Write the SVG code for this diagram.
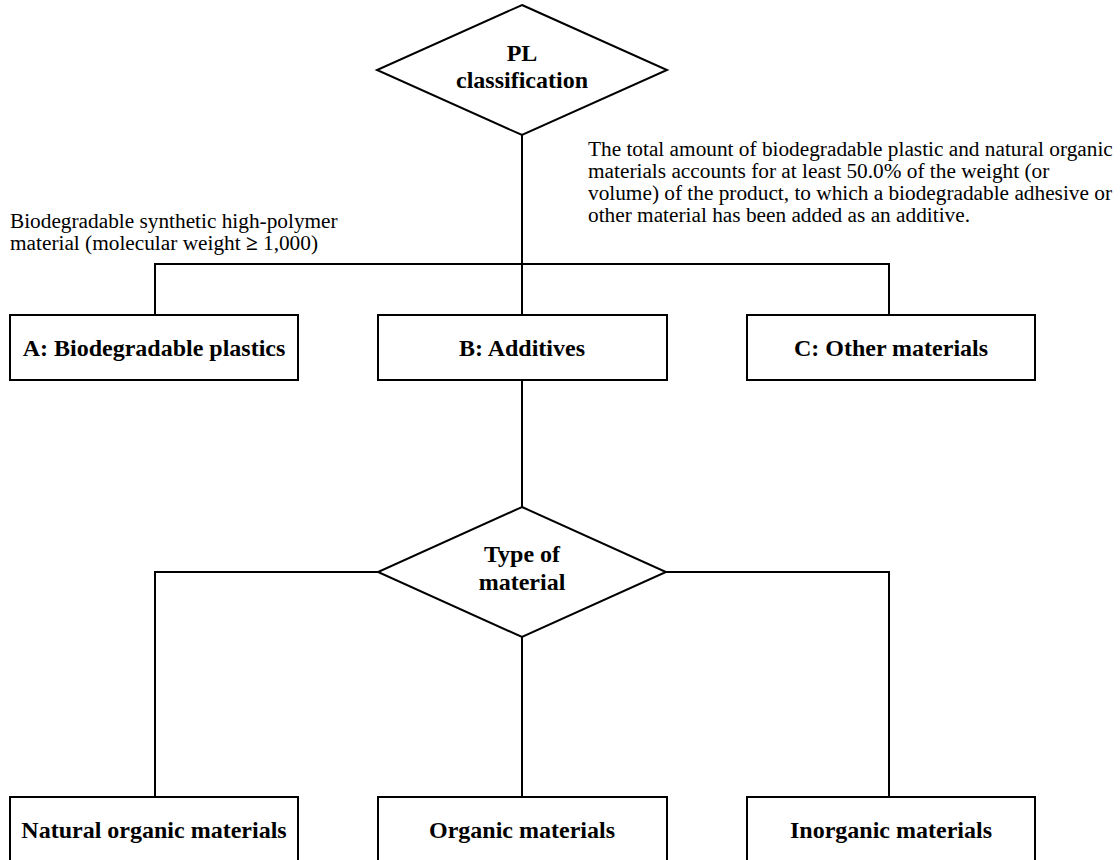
<svg xmlns="http://www.w3.org/2000/svg" width="1120" height="860" viewBox="0 0 1120 860">
<style>
.shape{fill:#fff;stroke:#000;stroke-width:2}
.ln{fill:none;stroke:#000;stroke-width:2}
.lbl{font-family:"Liberation Serif","Times New Roman",serif;font-weight:bold;font-size:24px;text-anchor:middle;fill:#000}
.note{font-family:"Liberation Serif","Times New Roman",serif;font-size:21.3px;fill:#000}
</style>
<rect width="1120" height="860" fill="#fff"/>
<g id="connectors">
<path class="ln" d="M522,135 V315"/>
<path class="ln" d="M155,315 V264 H889 V315"/>
<path class="ln" d="M522,380 V507"/>
<path class="ln" d="M378,572 H155 V797"/>
<path class="ln" d="M666,572 H889 V797"/>
<path class="ln" d="M522,637 V797"/>
</g>
<g id="pl-classification">
<polygon class="shape" points="522,5 667,70 522,135 377,70"/>
<text class="lbl" x="522" y="61">PL</text>
<text class="lbl" x="522" y="88">classification</text>
</g>
<g id="note-a">
<text class="note" x="10" y="228">Biodegradable synthetic high-polymer</text>
<text class="note" x="10" y="250">material (molecular weight <tspan font-weight="bold">≥</tspan> 1,000)</text>
</g>
<g id="note-b">
<text class="note" x="588" y="156">The total amount of biodegradable plastic and natural organic</text>
<text class="note" x="588" y="178">materials accounts for at least 50.0% of the weight (or</text>
<text class="note" x="588" y="200">volume) of the product, to which a biodegradable adhesive or</text>
<text class="note" x="588" y="222">other material has been added as an additive.</text>
</g>
<g id="box-a">
<rect class="shape" x="10" y="315" width="288" height="65"/>
<text class="lbl" x="154" y="356">A: Biodegradable plastics</text>
</g>
<g id="box-b">
<rect class="shape" x="378" y="315" width="289" height="65"/>
<text class="lbl" x="522" y="356">B: Additives</text>
</g>
<g id="box-c">
<rect class="shape" x="747" y="315" width="288" height="65"/>
<text class="lbl" x="891" y="356">C: Other materials</text>
</g>
<g id="type-of-material">
<polygon class="shape" points="522,507 666,572 522,637 378,572"/>
<text class="lbl" x="522" y="562">Type of</text>
<text class="lbl" x="522" y="590">material</text>
</g>
<g id="natural-organic">
<rect class="shape" x="10" y="797" width="288" height="66"/>
<text class="lbl" x="154" y="838">Natural organic materials</text>
</g>
<g id="organic">
<rect class="shape" x="378" y="797" width="289" height="66"/>
<text class="lbl" x="522" y="838">Organic materials</text>
</g>
<g id="inorganic">
<rect class="shape" x="747" y="797" width="288" height="66"/>
<text class="lbl" x="891" y="838">Inorganic materials</text>
</g>
</svg>
